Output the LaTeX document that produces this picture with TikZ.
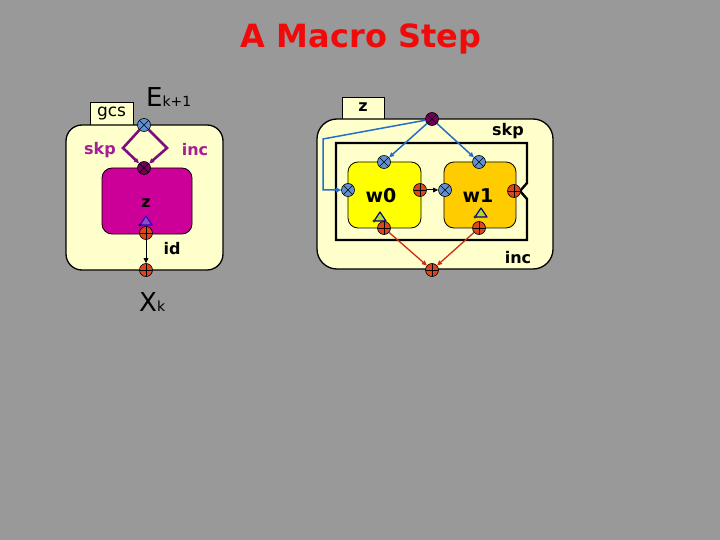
\documentclass[tikz,border=0pt]{standalone}
\usepackage{fontspec}
\setmainfont{DejaVu Sans}
\usetikzlibrary{arrows.meta}
\definecolor{bg}{RGB}{153,153,153}
\definecolor{cream}{RGB}{255,255,204}
\definecolor{mag}{RGB}{204,0,153}
\definecolor{purp}{RGB}{125,15,125}
\definecolor{plab}{RGB}{165,30,150}
\definecolor{bport}{RGB}{95,145,210}
\definecolor{dport}{RGB}{115,0,90}
\definecolor{oport}{RGB}{222,70,25}
\definecolor{rline}{RGB}{205,45,20}
\definecolor{bline}{RGB}{35,110,200}
\definecolor{ttl}{RGB}{240,10,10}
\definecolor{yel}{RGB}{255,255,0}
\definecolor{org}{RGB}{255,204,0}
\begin{document}
\begin{tikzpicture}[x=1pt,y=-1pt,
  portbase/.style={circle,draw=black,line width=0.6pt,minimum size=13pt,inner sep=0pt},
  xport/.style={portbase,path picture={\draw[black,line width=0.6pt]
     (path picture bounding box.north east)--(path picture bounding box.south west)
     (path picture bounding box.north west)--(path picture bounding box.south east);}},
  pport/.style={portbase,path picture={\draw[black,line width=0.6pt]
     (path picture bounding box.north)--(path picture bounding box.south)
     (path picture bounding box.west)--(path picture bounding box.east);}},
  inport/.style={xport,fill=bport},
  dkport/.style={xport,fill=dport},
  outport/.style={pport,fill=oport},
  tab/.style={draw=black,line width=0.8pt,fill=cream,inner sep=0pt},
  outerbox/.style={draw=black,line width=1.3pt,fill=cream,rounded corners=16pt,inner sep=0pt},
  compbox/.style={draw=black,line width=0.8pt,rounded corners=10pt,inner sep=0pt},
  lab/.style={font=\bfseries\fontsize{16}{16}\selectfont,inner sep=0pt},
  arr/.style={-{Triangle[length=5pt,width=4.5pt]}},
  icon/.style={line width=1.2pt,line join=round}
]
\useasboundingbox (0,0) rectangle (720,540);
\fill[bg] (0,0) rectangle (720,540);

% title
\node[text=ttl,font=\bfseries\fontsize{32}{32}\selectfont,inner sep=0pt] (title) at (361,39) {A Macro Step};

% ===== left: gcs =====
\node[tab,minimum width=43pt,minimum height=24pt] (gcstab) at (111.5,114) {};
\node[outerbox,minimum width=157pt,minimum height=145pt] (gcsbox) at (144.5,197.5) {};
\node[font=\fontsize{17}{17}\selectfont,inner sep=0pt] (gcslab) at (111.5,114) {gcs};
\node[compbox,fill=mag,minimum width=90pt,minimum height=66pt] (zbox) at (147,201) {};
\node[lab] (zlab) at (146,203) {z};
\coordinate (dl) at (123,148);
\coordinate (dr) at (167,148);
\node[inport] (ltop) at (144,125) {};
\node[dkport] (lbot) at (144,168) {};
\draw[purp,line width=2.6pt,line join=miter,arr] (ltop) -- (dl) -- (lbot);
\draw[purp,line width=2.6pt,line join=miter,arr] (ltop) -- (dr) -- (lbot);
\node[lab,text=plab] (lskp) at (100,150) {skp};
\node[lab,text=plab] (linc) at (195,150) {inc};
% icon in z
\draw[icon,draw=blue!70!purple,fill=blue!55!purple!70] (146,216) -- (140,225) -- (152,225) -- cycle;
\fill[blue!40!black] (140,225) circle (1.6pt);
\node[outport] (lout) at (146,233) {};
\node[outport] (lx) at (146,270) {};
\draw[black,line width=1pt,arr] (lout) -- (lx);
\node[lab] (lid) at (172,249) {id};
\node[inner sep=0pt,anchor=base west] (ek) at (146,107) {\fontsize{26}{26}\selectfont E\fontsize{14}{14}\selectfont k+1};
\node[inner sep=0pt,anchor=base west] (xk) at (139,311) {\fontsize{26}{26}\selectfont X\fontsize{14}{14}\selectfont k};

% ===== right: z =====
\node[tab,minimum width=42pt,minimum height=22pt] (ztab) at (363,108) {};
\node[outerbox,rounded corners=20pt,minimum width=236pt,minimum height=150pt] (zouter) at (435,194) {};
\node[lab] (ztablab) at (363,107) {z};
\draw[black,line width=2.4pt] (336,143) -- (527,143) -- (527,183) -- (520,191) -- (527,199) -- (527,240) -- (336,240) -- cycle;
\node[compbox,fill=yel,minimum width=73pt,minimum height=66pt] (w0) at (384.5,195) {};
\node[compbox,fill=org,minimum width=72pt,minimum height=66pt] (w1) at (480,195) {};
\node[lab,font=\bfseries\fontsize{19}{19}\selectfont] (w0lab) at (381,196) {w0};
\node[lab,font=\bfseries\fontsize{19}{19}\selectfont] (w1lab) at (478,196) {w1};
% icons
\draw[icon,draw=blue!60!black,fill=yellow!70!green] (380,212) -- (374,221) -- (386,221) -- cycle;
\fill[black!80] (374,221) circle (1.6pt);
\draw[icon,draw=blue!60!black,fill=yellow!70!green] (481,208) -- (475,217) -- (487,217) -- cycle;
\fill[black!80] (475,217) circle (1.6pt);
% ports
\node[dkport] (rtop) at (432,119) {};
\node[inport] (w0top) at (384,162) {};
\node[inport] (w0left) at (348,190) {};
\node[outport] (w0right) at (420,190) {};
\node[outport] (w0bot) at (384,228) {};
\node[inport] (w1top) at (479,162) {};
\node[inport] (w1left) at (445,190) {};
\node[outport] (w1right) at (514,191) {};
\node[outport] (w1bot) at (479,228) {};
\node[outport] (rbot) at (432,270) {};
% connectors
\coordinate (b1) at (323,139);
\coordinate (b2) at (323,190);
\draw[bline,line width=1.5pt,arr] (rtop) -- (w0top);
\draw[bline,line width=1.5pt,arr] (rtop) -- (w1top);
\draw[bline,line width=1.5pt,arr] (rtop) -- (b1) -- (b2) -- (w0left);
\draw[black,line width=1pt,arr] (w0right) -- (w1left);
\draw[rline,line width=1.3pt,arr] (w0bot) -- (rbot);
\draw[rline,line width=1.3pt,arr] (w1bot) -- (rbot);
\node[lab] (rskp) at (508,131) {skp};
\node[lab] (rinc) at (518,258) {inc};
\end{tikzpicture}
\end{document}
